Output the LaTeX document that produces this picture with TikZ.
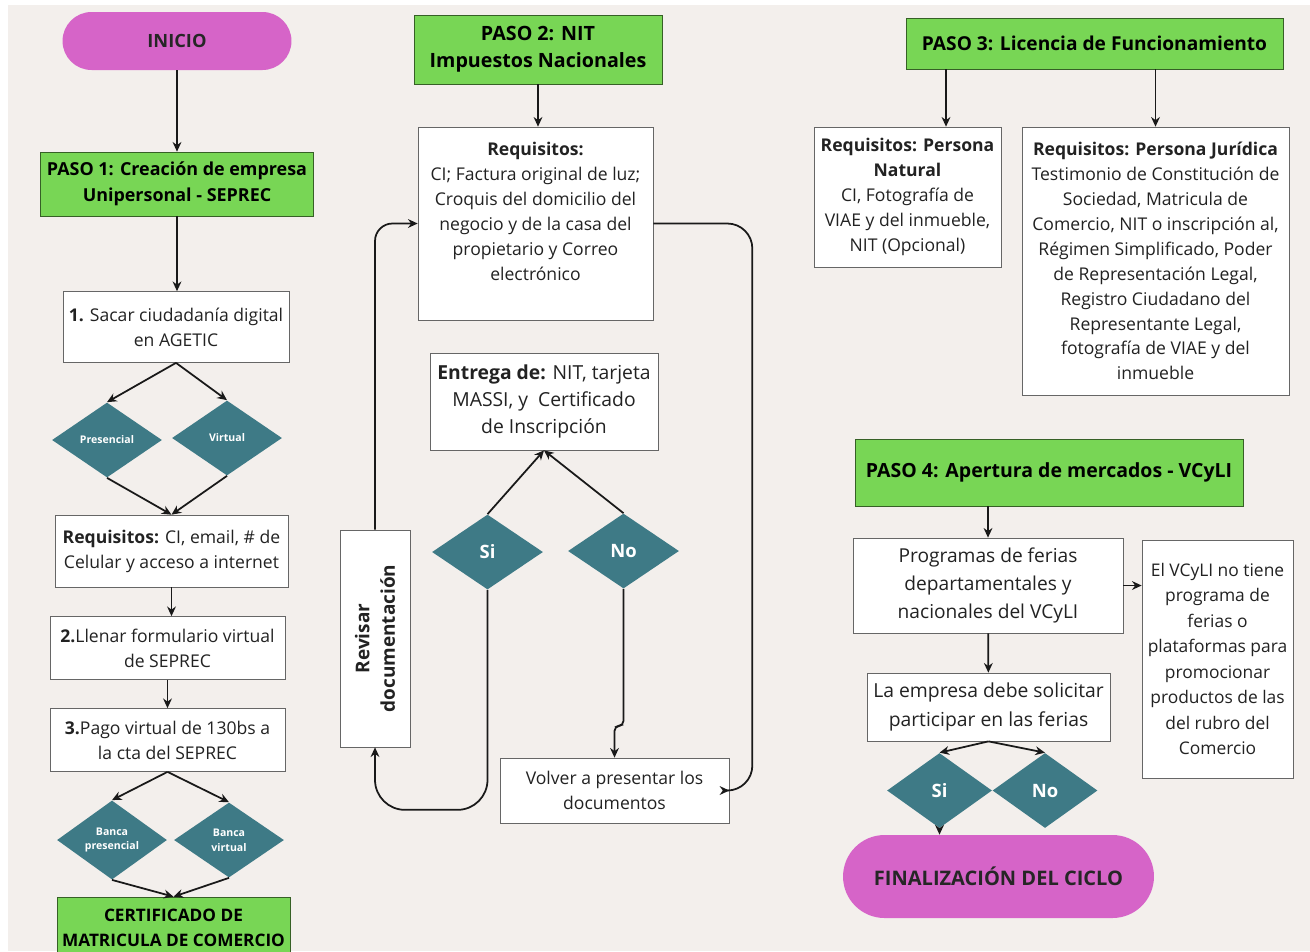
\documentclass[tikz,border=0pt]{standalone}
\usepackage{fontspec}
\setmainfont{Open Sans}
\usetikzlibrary{shapes.geometric,arrows.meta}
\definecolor{fondo}{HTML}{F3EFEC}
\definecolor{verde}{HTML}{78D655}
\definecolor{rosa}{HTML}{D664C8}
\definecolor{petroleo}{HTML}{3E7A86}
\definecolor{tinta}{HTML}{222222}

\begin{document}
\begin{tikzpicture}[x=0.02cm,y=-0.02cm,
	caja/.style={draw=black!60, fill=white, text=tinta, align=center, inner sep=1pt, font=\fontsize{10}{14.2}\selectfont},
	paso/.style={draw=black!55!verde, fill=verde, text=black, align=center, inner sep=1pt, font=\bfseries\fontsize{10.2}{14.5}\selectfont},
	extremo/.style={fill=rosa, text=black!85, align=center, font=\bfseries\fontsize{10.4}{12}\selectfont},
	rombo/.style={diamond, fill=petroleo, text=white, align=center, inner sep=0pt, minimum width=2.2cm, minimum height=1.5cm, font=\bfseries\fontsize{10.5}{12}\selectfont},
	rombito/.style={rombo, font=\bfseries\fontsize{6}{8.5}\selectfont},
	flecha/.style={-{Stealth[length=5.5pt,width=5pt]}, line width=1pt, black!90}]
\clip (0,0) rectangle (1310,951);
\fill[white] (0,0) rectangle (1310,951);
\fill[fondo] (8,5) rectangle (1310,951);

\node[extremo, minimum width=4.58cm, minimum height=1.16cm, rounded corners=0.58cm] (inicio) at (177,41) {INICIO};
\node[paso, minimum width=5.46cm, minimum height=1.28cm] (paso1) at (177,184) {PASO 1: Creación de empresa\\Unipersonal - SEPREC};
\node[caja, minimum width=4.52cm, minimum height=1.42cm] (s1) at (176,327) {\textbf{1.} Sacar ciudadanía digital\\en AGETIC};
\node[rombito] (pres) at (107,440) {Presencial};
\node[rombito] (virt) at (227,438) {Virtual};
\node[caja, minimum width=4.66cm, minimum height=1.44cm] (req1) at (171.5,551) {\textbf{Requisitos:} CI, email, \# de\\Celular y acceso a internet};
\node[caja, minimum width=4.7cm, minimum height=1.26cm] (s2) at (167.5,648) {\textbf{2.}Llenar formulario virtual\\de SEPREC};
\node[caja, minimum width=4.7cm, minimum height=1.26cm] (s3) at (167.5,740) {\textbf{3.}Pago virtual de 130bs a\\la cta del SEPREC};
\node[rombito] (bpres) at (112,840) {Banca\\presencial};
\node[rombito] (bvirt) at (229,840) {Banca\\virtual};
\node[paso, minimum width=4.66cm, minimum height=1.24cm, font=\bfseries\fontsize{9.8}{14}\selectfont] (cert) at (173.5,928) {CERTIFICADO DE\\MATRICULA DE COMERCIO};

\node[paso, minimum width=4.96cm, minimum height=1.38cm, font=\bfseries\fontsize{11.2}{15.5}\selectfont] (paso2) at (538,49.5) {PASO 2: NIT\\Impuestos Nacionales};
\node[caja, minimum width=4.7cm, minimum height=3.86cm] (req2) at (535.5,223.5) {\textbf{Requisitos:}\\CI; Factura original de luz;\\Croquis del domicilio del\\negocio y de la casa del\\propietario y Correo\\electrónico\\~};
\node[caja, minimum width=4.56cm, minimum height=1.94cm, font=\fontsize{11}{15.5}\selectfont] (entrega) at (544,401.5) {\textbf{Entrega de:} NIT, tarjeta\\MASSI, y~ Certificado\\de Inscripción};
\node[rombo, minimum width=2.22cm] (si2) at (487.5,552) {Si};
\node[rombo, minimum width=2.22cm] (no2) at (623.5,551) {No};
\node[caja, rotate=90, minimum width=4.34cm, minimum height=1.4cm, font=\bfseries\fontsize{10.8}{14.5}\selectfont] (revisar) at (375,638.5) {Revisar\\documentación};
\node[caja, minimum width=4.58cm, minimum height=1.3cm] (volver) at (614.5,790.5) {Volver a presentar los\\documentos};

\node[paso, minimum width=7.54cm, minimum height=1.02cm, font=\bfseries\fontsize{10.9}{14}\selectfont] (paso3) at (1094.5,43.5) {PASO 3: Licencia de Funcionamiento};
\node[caja, minimum width=3.74cm, minimum height=2.8cm] (natural) at (907.5,197) {\textbf{Requisitos: Persona}\\\textbf{Natural}\\CI, Fotografía de\\VIAE y del inmueble,\\NIT (Opcional)};
\node[caja, minimum width=5.34cm, minimum height=5.36cm] (juridica) at (1155.5,261) {\textbf{Requisitos: Persona Jurídica}\\Testimonio de Constitución de\\Sociedad, Matricula de\\Comercio, NIT o inscripción al,\\Régimen Simplificado, Poder\\de Representación Legal,\\Registro Ciudadano del\\Representante Legal,\\fotografía de VIAE y del\\inmueble};

\node[paso, minimum width=7.76cm, minimum height=1.34cm, font=\bfseries\fontsize{11.1}{14}\selectfont] (paso4) at (1049,472.5) {PASO 4: Apertura de mercados - VCyLI};
\node[caja, minimum width=5.4cm, minimum height=1.9cm, font=\fontsize{10.9}{16}\selectfont] (programas) at (988,585.5) {Programas de ferias\\departamentales y\\nacionales del VCyLI};
\node[caja, minimum width=3.02cm, minimum height=4.76cm, font=\fontsize{9.9}{14.5}\selectfont] (vcyli) at (1217.5,659) {El VCyLI no tiene\\programa de\\ferias o\\plataformas para\\promocionar\\productos de las\\del rubro del\\Comercio};
\node[caja, minimum width=4.86cm, minimum height=1.36cm, font=\fontsize{11}{16}\selectfont] (empresa) at (988.5,707) {La empresa debe solicitar\\participar en las ferias};
\node[rombo, minimum width=2.1cm] (si4) at (939.5,790.5) {Si};
\node[rombo, minimum width=2.1cm] (no4) at (1045,790.5) {No};
\node[extremo, minimum width=6.22cm, minimum height=1.66cm, rounded corners=0.83cm, font=\bfseries\fontsize{11.4}{13}\selectfont] (final) at (998.5,876.5) {FINALIZACIÓN DEL CICLO};

\draw[flecha] (inicio) -- (paso1);
\draw[flecha] (paso1.south) -- (paso1.south |- s1.north);
\draw[flecha] (s1.south) -- (pres.north);
\draw[flecha] (s1.south) -- (virt.north);
\draw[flecha] (pres.south) -- (req1.north);
\draw[flecha] (virt.south) -- (req1.north);
\draw[flecha] (req1.south) -- (req1.south |- s2.north);
\draw[flecha] (s2) -- (s3);
\draw[flecha] (s3.south) -- (bpres.north);
\draw[flecha] (s3.south) -- (bvirt.north);
\draw[flecha] (bpres.south) -- (cert.north);
\draw[flecha] (bvirt.south) -- (cert.north);

\draw[flecha] (paso2.south) -- (paso2.south |- req2.north);
\draw[flecha] (si2.north) -- (entrega.south);
\draw[flecha] (no2.north) -- (entrega.south);
\draw[flecha, rounded corners=0.35cm] (revisar.east) |- (req2.west);
\draw[flecha, rounded corners=0.6cm] (si2.south) -- ++(0,220) -| (revisar.west);
\draw[flecha, rounded corners=0.1cm] (no2.south) -- ++(0,137) -| (volver.north);
\draw[flecha, rounded corners=0.5cm] (req2.east) -- ++(99,0) |- (volver.east);

\draw[flecha] (paso3.south -| 946,0) -- (natural.north -| 946,0);
\draw[flecha] (paso3.south -| juridica.north) -- (juridica.north);
\draw[flecha] (paso4.south -| programas.north) -- (programas.north);
\draw[flecha] (programas.east) -- (vcyli.west |- programas.east);
\draw[flecha] (programas) -- (empresa);
\draw[flecha] (empresa.south) -- (si4.north);
\draw[flecha] (empresa.south) -- (no4.north);
\draw[flecha] (si4.south) -- (si4.south |- final.north);
\end{tikzpicture}
\end{document}
